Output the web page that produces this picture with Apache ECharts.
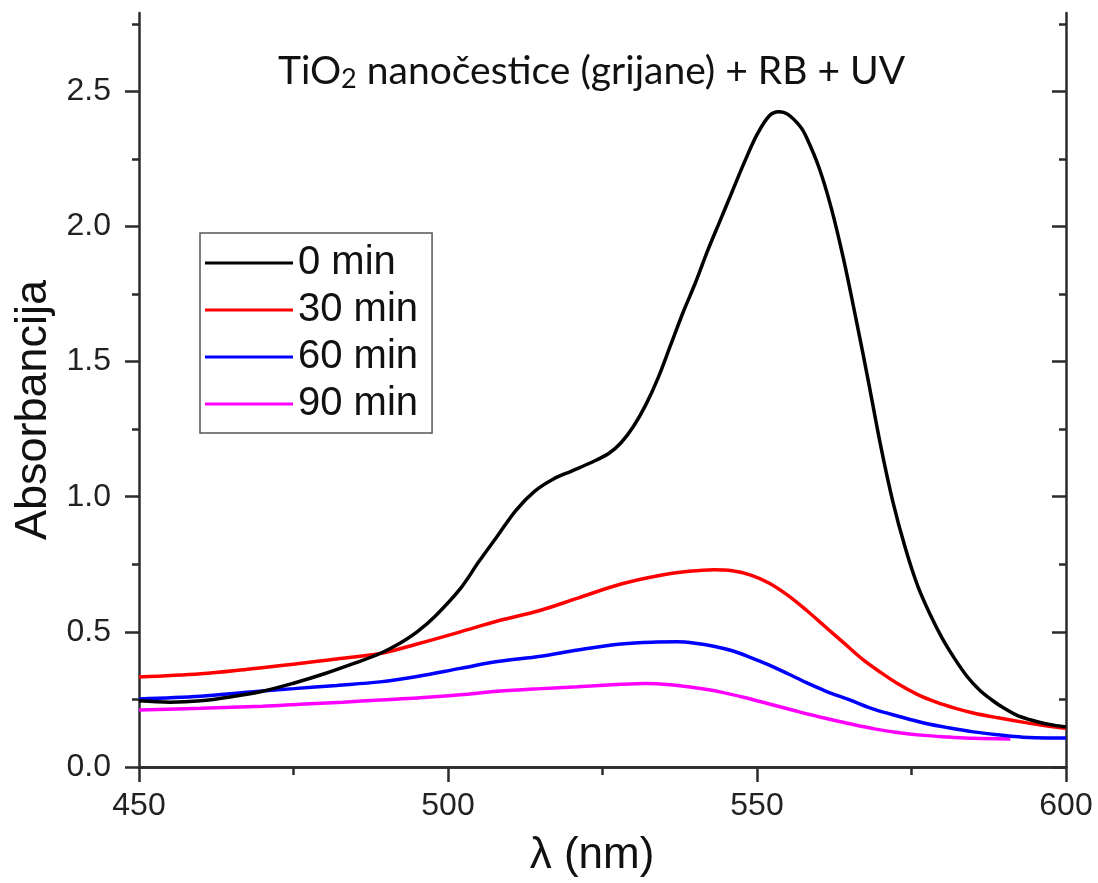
<!DOCTYPE html>
<html>
<head>
<meta charset="utf-8">
<script src="https://cdn.jsdelivr.net/npm/echarts@6/dist/echarts.min.js"></script>
<style>html,body{margin:0;padding:0;background:#fff}#c{width:1098px;height:883px}</style>
</head>
<body>
<div id="c"></div>
<script>
// ---- data ----
var seriesNames = ['0 min', '30 min', '60 min', '90 min'];
var wl0 = [450,455,460,465,470,475,480,485,489,492,495,498,502,505,508,511,514,517,520,523,526,528,530,532,534,536,538,540,542,544,546,548,550,552,553.5,555,557,558,560,562,564,566,568,570,572,574,576,578,580,582,584,586,588,590,592,594,596,598,600];
var abs0 = [0.245,0.24,0.245,0.26,0.28,0.31,0.345,0.385,0.42,0.455,0.50,0.56,0.66,0.76,0.855,0.95,1.02,1.065,1.095,1.125,1.16,1.20,1.26,1.34,1.44,1.56,1.68,1.79,1.91,2.02,2.13,2.24,2.34,2.41,2.425,2.415,2.37,2.33,2.22,2.07,1.88,1.66,1.43,1.19,0.98,0.81,0.67,0.565,0.475,0.40,0.335,0.285,0.248,0.217,0.192,0.176,0.164,0.155,0.148];
var wl30 = [450,460,468,475,482,489,495,502,508,515,521,528,534,539,543,546,549,552,555,558,561,564,567,570,573,576,579,582,585,589,593,597,600];
var abs30 = [0.333,0.345,0.363,0.38,0.40,0.42,0.455,0.50,0.54,0.58,0.625,0.677,0.708,0.724,0.73,0.726,0.71,0.68,0.635,0.58,0.52,0.46,0.40,0.35,0.305,0.268,0.24,0.218,0.20,0.182,0.166,0.152,0.143];
var wl60 = [450,460,468,475,482,489,495,502,508,515,521,528,533,537,540,543,546,549,552,555,558,561,565,569,573,577,581,585,589,593,597,600];
var abs60 = [0.252,0.262,0.278,0.29,0.302,0.315,0.335,0.365,0.39,0.41,0.433,0.455,0.462,0.463,0.458,0.447,0.43,0.405,0.377,0.345,0.312,0.282,0.248,0.213,0.187,0.163,0.145,0.13,0.119,0.11,0.107,0.107];
var wl90 = [450,460,470,476,483,489,495,502,508,515,521,528,532,536,540,544,548,552,556,560,565,569,573,577,581,585,591];
var abs90 = [0.211,0.217,0.225,0.232,0.24,0.248,0.255,0.267,0.28,0.29,0.297,0.306,0.309,0.304,0.293,0.278,0.257,0.233,0.209,0.186,0.16,0.141,0.127,0.117,0.111,0.106,0.104];
var xTicks = [450, 500, 550, 600];
var xMinorTicks = [475, 525, 575];
var yTicks = [0, 0.5, 1.0, 1.5, 2.0, 2.5];
var yMinorTicks = [0.25, 0.75, 1.25, 1.75, 2.25, 2.75];
var titleText = 'TiO{sub|2} nanočestice (grijane) + RB + UV';
var xTitle = 'λ (nm)';
var yTitle = 'Absorbancija';

function pairs(xs, ys) { return xs.map(function (x, i) { return [x, ys[i]]; }); }

var FONT = 'Liberation Sans';
var AXC = '#2b2b2b';
var XMIN = 450, XMAX = 600, YMIN = 0, YMAX = 2.79;

function xAxisDef(pos, ticks, len, inside, line, labels) {
  return {
    type: 'value', position: pos, min: XMIN, max: XMAX,
    axisLine: { show: line, lineStyle: { color: AXC, width: 2.5 } },
    axisTick: { show: true, inside: inside, length: len, customValues: ticks, lineStyle: { color: AXC, width: 2.5 } },
    axisLabel: labels ? { show: true, customValues: ticks, margin: 23, fontFamily: FONT, fontSize: 32, color: '#222' } : { show: false },
    splitLine: { show: false }
  };
}
function yAxisDef(pos, ticks, len, inside, line, labels) {
  return {
    type: 'value', position: pos, min: YMIN, max: YMAX,
    axisLine: { show: line, lineStyle: { color: AXC, width: 2.5 } },
    axisTick: { show: true, inside: inside, length: len, customValues: ticks, lineStyle: { color: AXC, width: 2.5 } },
    axisLabel: labels ? { show: true, customValues: ticks, margin: 28, fontFamily: FONT, fontSize: 32, color: '#222',
      formatter: function (v) { return v.toFixed(1); } } : { show: false },
    splitLine: { show: false }
  };
}

var colors = ['#000000', '#ff0000', '#0000ff', '#ff00ff'];
var datasets = [pairs(wl0, abs0), pairs(wl30, abs30), pairs(wl60, abs60), pairs(wl90, abs90)];

var chart = echarts.init(document.getElementById('c'), null, { renderer: 'canvas' });
chart.setOption({
  animation: false,
  backgroundColor: '#fff',
  grid: { left: 139, right: 32, top: 13, bottom: 116, containLabel: false },
  title: {
    text: titleText, left: 273, top: 44,
    textStyle: {
      fontFamily: 'Lato', fontSize: 39, fontWeight: 'normal', color: '#111', lineHeight: 44,
      rich: { sub: { fontFamily: 'Lato', fontSize: 27, lineHeight: 24, verticalAlign: 'bottom', color: '#111' } }
    }
  },
  legend: {
    orient: 'vertical', left: 200, top: 233,
    padding: [10, 14, 9, 5],
    icon: 'rect',
    itemWidth: 88, itemHeight: 3, itemGap: 7, itemTextGap: 6,
    borderColor: '#555', borderWidth: 1.5,
    textStyle: { fontFamily: FONT, fontSize: 40, color: '#111', lineHeight: 40 },
    data: seriesNames
  },
  xAxis: [
    xAxisDef('bottom', xTicks, 15, false, true, true),
    xAxisDef('bottom', xMinorTicks, 8, false, false, false),
    xAxisDef('top', xTicks, 14, true, true, false),
    xAxisDef('top', xMinorTicks, 7, true, false, false)
  ],
  yAxis: [
    yAxisDef('left', yTicks, 14, false, true, true),
    yAxisDef('left', yMinorTicks, 7, false, false, false),
    yAxisDef('right', yTicks, 14, true, true, false),
    yAxisDef('right', yMinorTicks, 7, true, false, false)
  ],
  series: seriesNames.map(function (n, i) {
    return {
      name: n, type: 'line', xAxisIndex: 0, yAxisIndex: 0,
      data: datasets[i], symbol: 'none', smooth: 0.35,
      lineStyle: { color: colors[i], width: 3.5 }, itemStyle: { color: colors[i] },
      z: 10 - i
    };
  }),
  graphic: [
    { type: 'text', x: 34, y: 410, rotation: Math.PI / 2,
      style: { text: yTitle, fontFamily: FONT, fontSize: 45, fill: '#111', align: 'center', verticalAlign: 'middle' } },
    { type: 'text', x: 592, y: 856,
      style: { text: xTitle, fontFamily: FONT, fontSize: 44, fill: '#111', align: 'center', verticalAlign: 'middle' } }
  ]
});
</script>
</body>
</html>
